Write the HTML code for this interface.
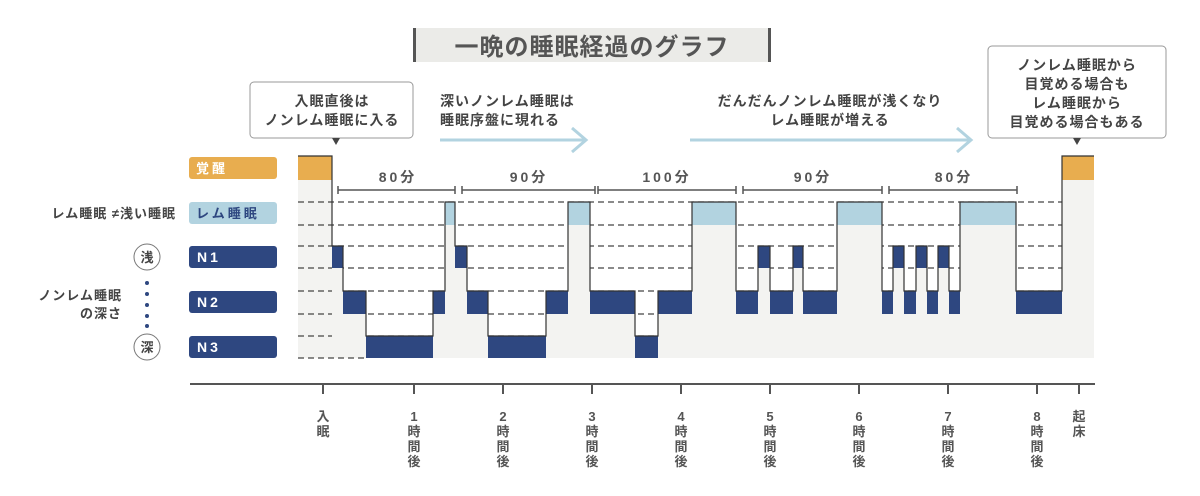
<!DOCTYPE html>
<html><head><meta charset="utf-8"><style>
body{margin:0;background:#fff;}
svg{display:block;font-family:"Liberation Sans","Noto Sans CJK JP",sans-serif;font-weight:bold;}
</style></head><body>
<svg id="s" width="1200" height="496" viewBox="0 0 1200 496" xmlns="http://www.w3.org/2000/svg">
<rect x="414" y="28" width="356" height="34" fill="#ebebe8"/>
<rect x="413" y="28" width="3" height="34" fill="#555"/>
<rect x="768" y="28" width="3" height="34" fill="#555"/>
<text x="592" y="55" font-size="24" text-anchor="middle" fill="#555" letter-spacing="1">一晩の睡眠経過のグラフ</text>
<rect x="250" y="82" width="163" height="56" rx="4" fill="#fff" stroke="#999" stroke-width="1"/>
<text x="332" y="106" font-size="14" text-anchor="middle" fill="#444" letter-spacing="1">入眠直後は</text>
<text x="332" y="125" font-size="14" text-anchor="middle" fill="#444" letter-spacing="1">ノンレム睡眠に入る</text>
<path d="M332 138 L340 138 L336 145 Z" fill="#444"/>
<text x="440" y="106" font-size="14" fill="#444" letter-spacing="1">深いノンレム睡眠は</text>
<text x="440" y="125" font-size="14" fill="#444" letter-spacing="1">睡眠序盤に現れる</text>
<line x1="440" y1="140" x2="585" y2="140" stroke="#b2d3e0" stroke-width="3"/>
<polyline points="572,128 586,140 572,152" fill="none" stroke="#b2d3e0" stroke-width="3"/>
<text x="830" y="106" font-size="14" text-anchor="middle" fill="#444" letter-spacing="1">だんだんノンレム睡眠が浅くなり</text>
<text x="830" y="125" font-size="14" text-anchor="middle" fill="#444" letter-spacing="1">レム睡眠が増える</text>
<line x1="690" y1="140" x2="970" y2="140" stroke="#b2d3e0" stroke-width="3"/>
<polyline points="957,128 971,140 957,152" fill="none" stroke="#b2d3e0" stroke-width="3"/>
<rect x="988" y="46" width="178" height="92" rx="4" fill="#fff" stroke="#999" stroke-width="1"/>
<text x="1077" y="70" font-size="14" text-anchor="middle" fill="#444" letter-spacing="1">ノンレム睡眠から</text>
<text x="1077" y="89" font-size="14" text-anchor="middle" fill="#444" letter-spacing="1">目覚める場合も</text>
<text x="1077" y="108" font-size="14" text-anchor="middle" fill="#444" letter-spacing="1">レム睡眠から</text>
<text x="1077" y="127" font-size="14" text-anchor="middle" fill="#444" letter-spacing="1">目覚める場合もある</text>
<path d="M1073 138 L1081 138 L1077 145 Z" fill="#444"/>
<rect x="189" y="157" width="88" height="22" rx="3" fill="#e8ad4f"/>
<text x="196" y="173" font-size="13" fill="#fff" letter-spacing="3">覚醒</text>
<rect x="189" y="202" width="88" height="22" rx="3" fill="#b2d3e0"/>
<text x="196" y="218" font-size="13" fill="#2e4780" letter-spacing="3">レム睡眠</text>
<rect x="189" y="246" width="88" height="22" rx="3" fill="#2e4780"/>
<text x="197" y="262" font-size="14" fill="#fff" letter-spacing="3">N1</text>
<rect x="189" y="291" width="88" height="22" rx="3" fill="#2e4780"/>
<text x="197" y="307" font-size="14" fill="#fff" letter-spacing="3">N2</text>
<rect x="189" y="336" width="88" height="22" rx="3" fill="#2e4780"/>
<text x="197" y="352" font-size="14" fill="#fff" letter-spacing="3">N3</text>
<text x="176" y="218" font-size="13" text-anchor="end" fill="#444" letter-spacing="1">レム睡眠 ≠浅い睡眠</text>
<circle cx="147" cy="257" r="13" fill="#fff" stroke="#777" stroke-width="1"/>
<text x="147" y="262" font-size="13" text-anchor="middle" fill="#444">浅</text>
<circle cx="147" cy="347" r="13" fill="#fff" stroke="#777" stroke-width="1"/>
<text x="147" y="352" font-size="13" text-anchor="middle" fill="#444">深</text>
<g fill="#2e4780"><circle cx="147" cy="283" r="2"/><circle cx="147" cy="294" r="2"/><circle cx="147" cy="305" r="2"/><circle cx="147" cy="316" r="2"/><circle cx="147" cy="326" r="2"/></g>
<text x="122" y="300" font-size="13" text-anchor="end" fill="#444" letter-spacing="1">ノンレム睡眠</text>
<text x="122" y="318" font-size="13" text-anchor="end" fill="#444" letter-spacing="1">の深さ</text>
<g id="chart"></g>
<g stroke="#555" stroke-width="1.5" fill="none">
<path d="M338 186v8M338 190H455M455 186v8"/>
<path d="M462 186v8M462 190H595M595 186v8"/>
<path d="M598 186v8M598 190H736M736 186v8"/>
<path d="M743 186v8M743 190H882M882 186v8"/>
<path d="M889 186v8M889 190H1017M1017 186v8"/>
</g>
<g font-size="14" fill="#555" text-anchor="middle" letter-spacing="3">
<text x="398" y="182">80分</text><text x="529" y="182">90分</text><text x="667" y="182">100分</text><text x="813" y="182">90分</text><text x="954" y="182">80分</text>
</g>
<line x1="190" y1="384" x2="1095" y2="384" stroke="#555" stroke-width="2"/>
<g id="ax" font-size="13" fill="#555" text-anchor="middle"></g>
</svg>
<script>
var NS="http://www.w3.org/2000/svg";
function el(p,t,a,txt){var e=document.createElementNS(NS,t);for(var k in a)e.setAttribute(k,a[k]);if(txt)e.textContent=txt;p.appendChild(e);return e;}
var L={A:[156,24,"#e8ad4f"],R:[202,23,"#b2d3e0"],"1":[246,22,"#2e4780"],"2":[291,23,"#2e4780"],"3":[336,22,"#2e4780"]};
var S=[[298,332,"A"],[332,343,"1"],[343,366,"2"],[366,433,"3"],[433,445,"2"],[445,455,"R"],[455,467,"1"],[467,488,"2"],[488,546,"3"],[546,568,"2"],[568,590,"R"],[590,635,"2"],[635,658,"3"],[658,692,"2"],[692,736,"R"],[736,758,"2"],[758,770,"1"],[770,793,"2"],[793,803,"1"],[803,837,"2"],[837,882,"R"],[882,893,"2"],[893,904,"1"],[904,916,"2"],[916,927,"1"],[927,938,"2"],[938,949,"1"],[949,960,"2"],[960,1016,"R"],[1016,1062,"2"],[1062,1094,"A"]];
var g=document.getElementById("chart");
[202,225,246,268,291,314,336].forEach(function(y){el(g,"line",{x1:298,x2:1062,y1:y,y2:y,stroke:"#444","stroke-width":1.2,"stroke-dasharray":"6 4"});});
var pts=[];
S.forEach(function(s){var l=L[s[2]];el(g,"rect",{x:s[0],y:l[0],width:s[1]-s[0],height:358-l[0],fill:"#f3f3f1"});});
[202,225,246,268,291,314,336,358].forEach(function(y){el(g,"line",{x1:298,x2:y==358?366:332,y1:y,y2:y,stroke:"#444","stroke-width":1.2,"stroke-dasharray":"6 4"});});
S.forEach(function(s){var l=L[s[2]];el(g,"rect",{x:s[0],y:l[0],width:s[1]-s[0],height:l[1],fill:l[2]});pts.push(s[0]+","+l[0]);pts.push(s[1]+","+l[0]);});
el(g,"polyline",{points:pts.join(" "),fill:"none",stroke:"#333","stroke-width":1.2});
var ax=document.getElementById("ax");
var T=[[323,["入","眠"]],[414,["1","時","間","後"]],[503,["2","時","間","後"]],[592,["3","時","間","後"]],[681,["4","時","間","後"]],[770,["5","時","間","後"]],[859,["6","時","間","後"]],[948,["7","時","間","後"]],[1037,["8","時","間","後"]],[1079,["起","床"]]];
T.forEach(function(t){el(ax,"line",{x1:t[0],x2:t[0],y1:385,y2:394,stroke:"#555","stroke-width":2});t[1].forEach(function(c,i){el(ax,"text",{x:t[0],y:421+i*15},c);});});
</script>
</body></html>
